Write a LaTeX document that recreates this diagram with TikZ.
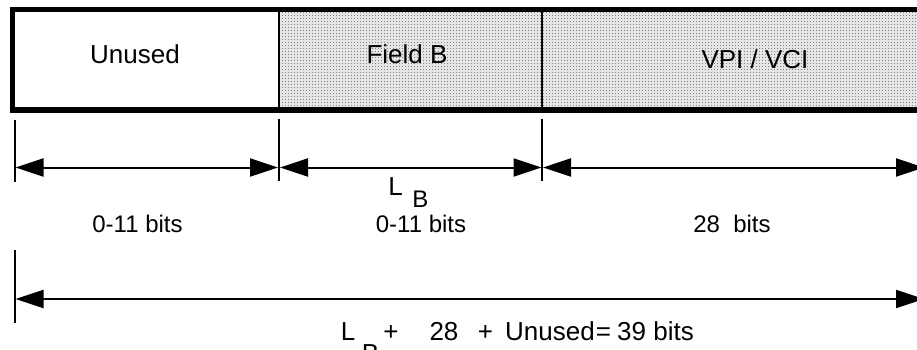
\documentclass[tikz,border=0pt]{standalone}
\usepackage{fontspec}
\setmainfont{Liberation Sans}
\usetikzlibrary{arrows.meta,patterns.meta}
\pgfdeclarepattern{name=fdots, type=uncolored,
  bottom left={\pgfpoint{0pt}{0pt}}, top right={\pgfpoint{1.5pt}{1.5pt}},
  tile size={\pgfpoint{1.5pt}{1.5pt}},
  code={\pgfpathrectangle{\pgfpointorigin}{\pgfpoint{0.6pt}{0.6pt}}\pgfusepath{fill}}}
\begin{document}
\begin{tikzpicture}[x=0.5pt,y=-0.5pt,
  dimarrow/.style={line width=1pt,
    {Triangle[length=14pt,width=9pt]}-{Triangle[length=14pt,width=9pt]}},
  extline/.style={line width=1pt},
  divider/.style={line width=1.3pt},
  frame/.style={line width=2.8pt},
  boxlbl/.style={font=\fontsize{13pt}{15pt}\selectfont, inner sep=0pt, anchor=base},
  dimlbl/.style={font=\fontsize{12pt}{14pt}\selectfont, inner sep=0pt, anchor=base},
  eqlbl/.style={font=\fontsize{13pt}{15pt}\selectfont, inner sep=0pt, anchor=base}]
\useasboundingbox (0,0) rectangle (917,349);
\clip (0,0) rectangle (917,349);
% shaded part of the field
\fill[black!10] (279,9.5) rectangle (940,110);
\fill[pattern=fdots, pattern color=black!50] (279,9.5) rectangle (940,110);
% frame
\draw[frame] (940,9.5) -- (12.5,9.5) -- (12.5,110) -- (940,110);
\coordinate (d1t) at (279,9.5); \coordinate (d1b) at (279,110);
\coordinate (d2t) at (542,9.5); \coordinate (d2b) at (542,110);
\draw[divider] (d1t) -- (d1b);
\draw[divider] (d2t) -- (d2b);
% box labels
\node[boxlbl] (unused) at (135,63) {Unused};
\node[boxlbl] (fieldb) at (407,63) {Field B};
\node[boxlbl] (vpivci) at (755,68) {VPI / VCI};
% extension lines
\coordinate (e0t) at (14.5,120); \coordinate (e0b) at (14.5,182);
\coordinate (e1t) at (279,119); \coordinate (e1b) at (279,181);
\coordinate (e2t) at (542,119); \coordinate (e2b) at (542,181);
\coordinate (e3t) at (14.5,250); \coordinate (e3b) at (14.5,323);
\draw[extline] (e0t) -- (e0b);
\draw[extline] (e1t) -- (e1b);
\draw[extline] (e2t) -- (e2b);
\draw[extline] (e3t) -- (e3b);
% dimension arrows
\coordinate (a0l) at (15.5,167.5); \coordinate (a0r) at (278,167.5);
\coordinate (a1l) at (280,167.5); \coordinate (a1r) at (541.5,167.5);
\coordinate (a2l) at (543,167.5); \coordinate (a2r) at (924,167.5);
\coordinate (a3l) at (15.5,299); \coordinate (a3r) at (924,299);
\draw[dimarrow] (a0l) -- (a0r);
\draw[dimarrow] (a1l) -- (a1r);
\draw[dimarrow] (a2l) -- (a2r);
\draw[dimarrow] (a3l) -- (a3r);
% dimension labels
\node[boxlbl, anchor=base west] (lbl) at (388,195) {L};
\node[dimlbl, anchor=base west] (lbb) at (412,207) {B};
\node[dimlbl] (bits1) at (137.5,232) {0-11 bits};
\node[dimlbl] (bits2) at (421,232) {0-11 bits};
\node[dimlbl] (bits3) at (732,232) {28\ \ bits};
% total
\node[eqlbl] (tl) at (348,340) {L};
\node[eqlbl] (tb) at (370.5,362) {B};
\node[eqlbl] (tp1) at (391,340) {+};
\node[eqlbl] (t28) at (444,340) {28};
\node[eqlbl] (tp2) at (485.5,340) {+};
\node[eqlbl] (tun) at (550,340) {Unused};
\node[eqlbl] (teq) at (603.5,340) {=};
\node[eqlbl] (t39) at (655.5,340) {39 bits};
\end{tikzpicture}
\end{document}
